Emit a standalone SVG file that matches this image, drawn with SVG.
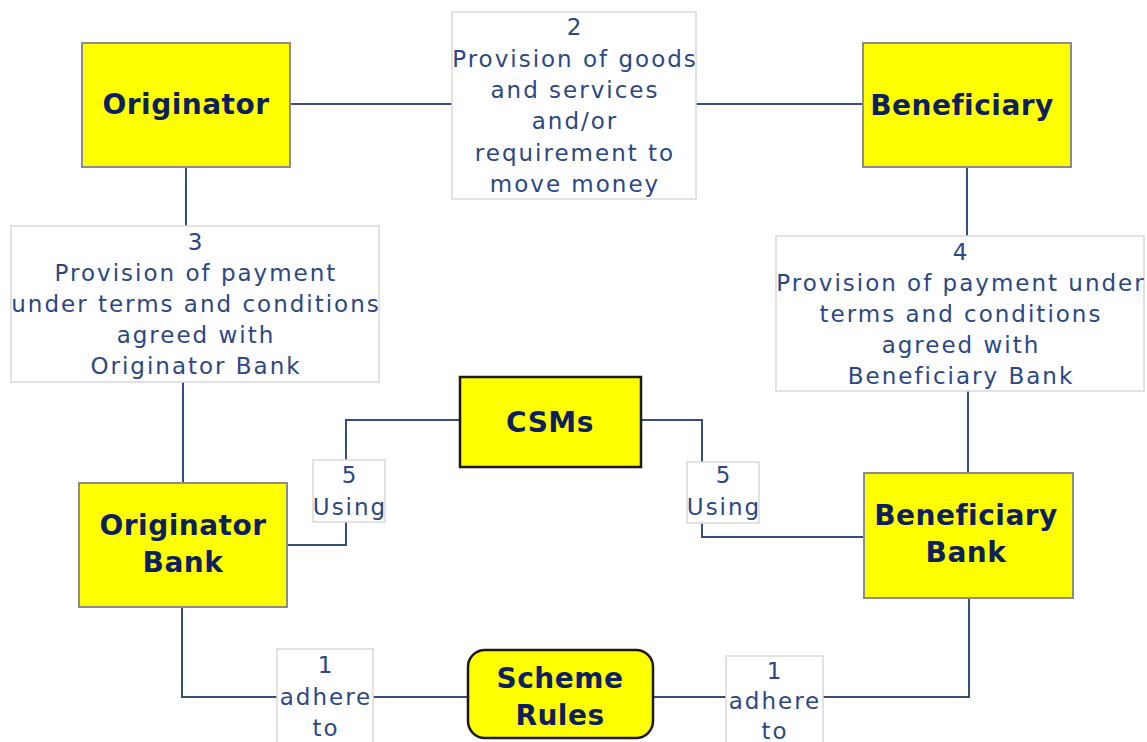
<svg xmlns="http://www.w3.org/2000/svg" width="1147" height="742" viewBox="0 0 1147 742">
<style>
.node{fill:#ffff00;stroke:#8c8c8c;stroke-width:2}
.dark{stroke:#1a1a1a;stroke-width:2.5}
.ntext{font-family:"DejaVu Sans",Verdana,sans-serif;font-weight:bold;font-size:28px;letter-spacing:0.5px;fill:#0d1f5c;text-anchor:middle}
.lbox{fill:#ffffff;stroke:#d9d9d9;stroke-width:1.5}
.ltext{font-family:"DejaVu Sans",Verdana,sans-serif;font-size:23px;letter-spacing:2px;fill:#2c4785;text-anchor:middle}
.conn{fill:none;stroke:#3a4b7e;stroke-width:2}
</style>
<rect width="1147" height="742" fill="#ffffff"/>
<g id="connectors">
<path class="conn" d="M290 104 H452"/>
<path class="conn" d="M696 104 H863"/>
<path class="conn" d="M186 167 V226"/>
<path class="conn" d="M183 382 V483"/>
<path class="conn" d="M967 167 V236"/>
<path class="conn" d="M968 391 V473"/>
<path class="conn" d="M460 420 H346 V460"/>
<path class="conn" d="M346 522 V545 H287"/>
<path class="conn" d="M641 420 H702 V462"/>
<path class="conn" d="M702 523 V537 H864"/>
<path class="conn" d="M182 607 V697 H277"/>
<path class="conn" d="M373 697 H468"/>
<path class="conn" d="M653 697 H726"/>
<path class="conn" d="M823 697 H969 V598"/>
</g>
<g id="originator">
<rect class="node" x="82" y="43" width="208" height="124"/>
<text class="ntext" x="186" y="114">Originator</text>
</g>
<g id="beneficiary">
<rect class="node" x="863" y="43" width="208" height="124"/>
<text class="ntext" x="962" y="115">Beneficiary</text>
</g>
<g id="originator-bank">
<rect class="node" x="79" y="483" width="208" height="124"/>
<text class="ntext" x="183" y="535">Originator</text>
<text class="ntext" x="183" y="572">Bank</text>
</g>
<g id="beneficiary-bank">
<rect class="node" x="864" y="473" width="209" height="125"/>
<text class="ntext" x="966" y="525">Beneficiary</text>
<text class="ntext" x="966" y="562">Bank</text>
</g>
<g id="csms">
<rect class="node dark" x="460" y="377" width="181" height="90"/>
<text class="ntext" x="550" y="432">CSMs</text>
</g>
<g id="scheme-rules">
<rect class="node dark" x="468" y="650" width="185" height="88" rx="17" ry="17"/>
<text class="ntext" x="560" y="688">Scheme</text>
<text class="ntext" x="560" y="725">Rules</text>
</g>
<g id="label-2">
<rect class="lbox" x="452" y="12" width="244" height="187"/>
<text class="ltext" x="575" y="35">2</text>
<text class="ltext" x="575" y="67">Provision of goods</text>
<text class="ltext" x="575" y="98">and services</text>
<text class="ltext" x="575" y="129">and/or</text>
<text class="ltext" x="575" y="161">requirement to</text>
<text class="ltext" x="575" y="192">move money</text>
</g>
<g id="label-3">
<rect class="lbox" x="11" y="226" width="368" height="156"/>
<text class="ltext" x="196" y="250">3</text>
<text class="ltext" x="196" y="281">Provision of payment</text>
<text class="ltext" x="196" y="312">under terms and conditions</text>
<text class="ltext" x="196" y="343">agreed with</text>
<text class="ltext" x="196" y="374">Originator Bank</text>
</g>
<g id="label-4">
<rect class="lbox" x="776" y="236" width="368" height="155"/>
<text class="ltext" x="961" y="260">4</text>
<text class="ltext" x="961" y="291">Provision of payment under</text>
<text class="ltext" x="961" y="322">terms and conditions</text>
<text class="ltext" x="961" y="353">agreed with</text>
<text class="ltext" x="961" y="384">Beneficiary Bank</text>
</g>
<g id="label-5-left">
<rect class="lbox" x="313" y="460" width="72" height="62"/>
<text class="ltext" x="350" y="483">5</text>
<text class="ltext" x="350" y="515">Using</text>
</g>
<g id="label-5-right">
<rect class="lbox" x="687" y="462" width="72" height="61"/>
<text class="ltext" x="724" y="483">5</text>
<text class="ltext" x="724" y="515">Using</text>
</g>
<g id="label-1-left">
<rect class="lbox" x="277" y="649" width="96" height="100"/>
<text class="ltext" x="326" y="673">1</text>
<text class="ltext" x="326" y="705">adhere</text>
<text class="ltext" x="326" y="736">to</text>
</g>
<g id="label-1-right">
<rect class="lbox" x="726" y="656" width="97" height="100"/>
<text class="ltext" x="775" y="679">1</text>
<text class="ltext" x="775" y="709">adhere</text>
<text class="ltext" x="775" y="739">to</text>
</g>
</svg>
